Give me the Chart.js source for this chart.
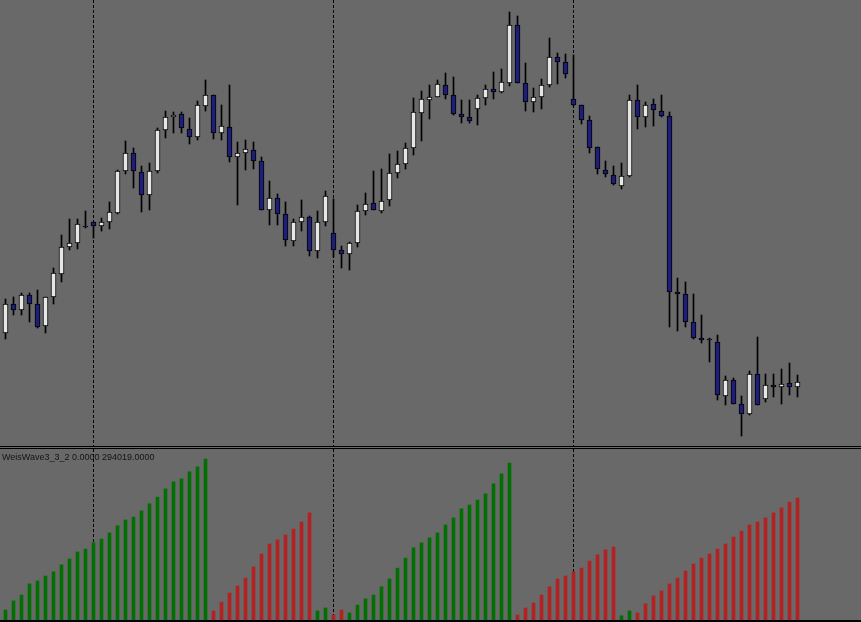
<!DOCTYPE html>
<html>
<head>
<meta charset="utf-8">
<script src="https://cdn.jsdelivr.net/npm/chart.js@4.4.1/dist/chart.umd.min.js"></script>
<style>
  html, body { margin: 0; padding: 0; background: #696969; }
  #wrap { position: relative; width: 861px; height: 622px; overflow: hidden; background: #696969; }
  #priceChart { position: absolute; left: 0; top: 0; }
  #waveChart { position: absolute; left: 0; top: 449px; }
  .sep { position: absolute; left: 0; width: 861px; height: 1px; background: #000; }
  #waveLabel {
    position: absolute; left: 2px; top: 453px;
    font: 9px "Liberation Sans", Arial, sans-serif; line-height: 9px;
    color: #141414; white-space: nowrap;
  }
</style>
</head>
<body>
<div id="wrap">
  <canvas id="priceChart" width="861" height="446"></canvas>
  <div class="sep" style="top:446px"></div>
  <div class="sep" style="top:448px"></div>
  <canvas id="waveChart" width="861" height="171"></canvas>
  <div class="sep" style="top:620px;height:2px"></div>
  <div id="waveLabel">WeisWave3_3_2 0.0000 294019.0000</div>
</div>
<script>
// Candles (price levels, 100 bars)
const opens  = [117,146,140,155,146,124,153,176,203,207,224,228,224,228,237,279,297,278,255,279,
                320,333,336,321,313,344,355,317,323,293,297,300,289,240,252,236,209,228,233,199,
                228,217,200,196,207,239,247,239,250,277,286,302,337,350,353,365,355,336,333,341,
                352,361,358,367,425,367,348,353,365,393,388,351,345,330,303,280,275,264,274,350,
                333,346,339,334,158,156,128,112,111,108,54,70,46,36,76,51,65,63,67,63];
const highs  = [151,153,157,157,160,153,182,215,231,231,239,228,232,248,280,309,302,284,287,322,
                339,338,338,332,349,370,355,345,365,308,310,308,293,269,256,248,231,250,234,239,
                259,251,204,208,245,257,279,281,296,299,307,352,359,365,370,377,373,350,350,355,
                365,378,381,438,434,387,362,371,412,397,396,395,345,334,303,289,284,287,355,365,
                348,351,355,338,172,168,156,135,112,115,74,72,54,79,113,76,76,81,87,75];
const lows   = [111,135,135,128,122,117,146,168,200,201,222,212,219,221,236,276,262,238,240,277,
                312,317,317,306,310,339,311,310,288,245,280,281,240,225,225,204,204,219,194,192,
                224,193,182,180,203,235,240,237,244,272,281,295,309,331,353,351,335,327,327,325,
                345,351,357,364,367,339,338,341,363,366,372,344,326,297,276,273,265,261,273,321,
                323,324,333,123,119,123,111,107,88,50,45,46,14,35,45,48,53,46,55,53];
const closes = [146,140,155,146,123,153,177,203,207,226,223,224,228,238,279,297,279,255,279,320,
                333,335,322,313,345,355,317,324,293,297,301,289,240,252,236,210,228,233,199,228,
                254,200,196,207,239,246,240,249,277,286,302,338,351,353,366,355,336,333,329,352,
                361,358,368,425,367,348,353,365,393,388,376,345,330,302,281,276,266,274,350,333,
                345,340,334,158,156,128,112,110,110,55,70,46,36,76,45,65,63,66,63,68];

// Weis wave cumulative volume (thousands), one bar per candle
const waveUp = [24,46,60,87,94,106,116,133,147,164,171,186,195,210,227,241,248,263,280,296,
                316,333,340,357,369,388,null,null,null,null,null,null,null,null,null,null,null,null,null,22,
                29,null,null,17,36,51,60,80,99,125,149,174,186,198,210,229,246,268,277,289,
                304,328,352,378,null,null,null,null,null,null,null,null,null,null,null,null,null,10,22,null,
                null,null,null,null,null,null,null,null,null,null,null,null,null,null,null,null,null,null,null,null];
const waveDown = [null,null,null,null,null,null,null,null,null,null,null,null,null,null,null,null,null,null,null,null,
                  null,null,null,null,null,null,22,43,65,82,101,128,159,183,193,205,219,236,258,null,
                  null,12,24,null,null,null,null,null,null,null,null,null,null,null,null,null,null,null,null,null,
                  null,null,null,null,12,29,41,60,80,99,106,116,125,142,157,169,176,null,null,17,
                  39,58,70,87,101,118,135,149,159,171,183,200,214,229,236,246,258,270,284,294.019];

// bars where a new day starts (period separators)
const separators = [11, 41, 71];

const bullColor = '#e6e6e6';
const bearColor = '#1e1e78';

const idx = opens.map((_, i) => i);

// x axis: one unit per bar, empty space on the right like the terminal's chart shift
function separatorAxis() {
    return {
        type: 'linear',
        min: -0.6875,
        max: 106.9375,
        offset: false,
        bounds: 'data',
        afterBuildTicks: scale => { scale.ticks = separators.map(v => ({ value: v })); },
        ticks: { display: false },
        grid: { color: '#000', lineWidth: 1, drawTicks: false, tickLength: 0, offset: false },
        border: { display: false, dash: [3, 2] }
    };
}

const priceChart = new Chart(document.getElementById('priceChart').getContext('2d'), {
    type: 'bar',
    data: {
        datasets: [
            {
                // wicks
                data: idx.map(i => ({ x: i, y: [lows[i], highs[i]] })),
                backgroundColor: '#000',
                barThickness: 1,
                grouped: false,
                order: 2
            },
            {
                // bodies
                data: idx.map(i => ({ x: i, y: [opens[i], closes[i]] })),
                backgroundColor: idx.map(i => closes[i] > opens[i] ? bullColor : bearColor),
                borderColor: '#000',
                borderWidth: 1,
                borderSkipped: false,
                barThickness: 5,
                grouped: false,
                order: 1
            }
        ]
    },
    options: {
        responsive: false,
        animation: false,
        devicePixelRatio: 1,
        layout: { padding: 0 },
        plugins: { legend: { display: false }, tooltip: { enabled: false } },
        scales: {
            x: separatorAxis(),
            y: { display: false, min: 4, max: 450 }
        }
    }
});

const waveChart = new Chart(document.getElementById('waveChart').getContext('2d'), {
    type: 'bar',
    data: {
        datasets: [
            {
                data: idx.map(i => ({ x: i, y: waveUp[i] })),
                backgroundColor: '#007000',
                barThickness: 3,
                grouped: false
            },
            {
                data: idx.map(i => ({ x: i, y: waveDown[i] })),
                backgroundColor: '#b22222',
                barThickness: 3,
                grouped: false
            }
        ]
    },
    options: {
        responsive: false,
        animation: false,
        devicePixelRatio: 1,
        layout: { padding: 0 },
        plugins: { legend: { display: false }, tooltip: { enabled: false } },
        scales: {
            x: separatorAxis(),
            y: { display: false, min: 0, max: 412 }
        }
    }
});
</script>
</body>
</html>
